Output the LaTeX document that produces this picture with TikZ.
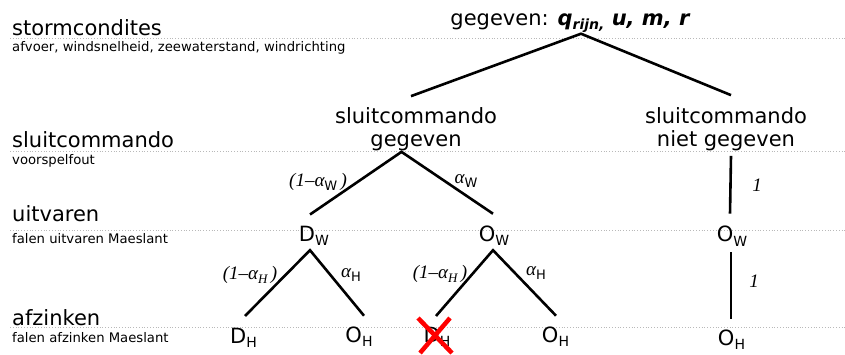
\documentclass[tikz,border=0pt]{standalone}
\usepackage{fontspec}
\setmainfont{DejaVu Sans}
\newfontfamily\kansfont{Liberation Serif}
\usepackage{xcolor}
\usepackage{tikz}
\usetikzlibrary{positioning,calc}
\definecolor{rood}{RGB}{255,0,0}
\definecolor{stippel}{RGB}{185,185,185}
\newcommand{\idx}[1]{\raisebox{-4.5pt}{\fontsize{14}{14}\selectfont #1}}
\newcommand{\kidx}[1]{\raisebox{-4pt}{\normalfont\fontsize{13}{13}\selectfont #1}}
\newcommand{\kidxi}[1]{\raisebox{-4pt}{\fontsize{13}{13}\selectfont #1}}
\tikzset{
  kop/.style={anchor=base west,inner sep=0pt,font=\fontsize{21}{24}\selectfont},
  uitleg/.style={anchor=base west,inner sep=0pt,font=\fontsize{13.2}{15}\selectfont},
  knoop/.style={inner sep=0pt,align=center,font=\fontsize{21}{23}\selectfont},
  kans/.style={inner sep=0pt,font=\kansfont\itshape\fontsize{19}{21}\selectfont},
  tak/.style={line width=2.6pt},
  niveau/.style={draw=stippel,dotted,line width=0.8pt},
  kruis/.style={draw=rood,line width=4.5pt}
}

\begin{document}
\begin{tikzpicture}[x=1pt,y=-1pt]
\useasboundingbox (0,0) rectangle (845,354);
\foreach \h in {38.5,151.5,230.5,327.5}
  \draw[niveau] (10,\h) -- (845,\h);

\node[kop] (storm) at (12,35) {stormcondites};
\node[uitleg] (stormtxt) at (12,51) {afvoer, windsnelheid, zeewaterstand, windrichting};
\node[kop] (sluit) at (12,147.5) {sluitcommando};
\node[uitleg] (sluittxt) at (12,164) {voorspelfout};
\node[kop] (uit) at (12,221) {uitvaren};
\node[uitleg] (uittxt) at (12,243) {falen uitvaren Maeslant};
\node[kop] (afz) at (12,325) {afzinken};
\node[uitleg] (afztxt) at (12,342) {falen afzinken Maeslant};

\node[knoop,anchor=base] (wortel) at (570,25) {gegeven: {\bfseries\itshape q\idx{rijn,} u, m, r}};
\node[knoop] (gegeven) at (416,129.5) {sluitcommando\\gegeven};
\node[knoop] (nietgegeven) at (726,129.5) {sluitcommando\\niet gegeven};
\node[knoop,anchor=base] (dw) at (314,241) {D\idx{W}};
\node[knoop,anchor=base] (ow) at (494,241) {O\idx{W}};
\node[knoop,anchor=base] (ow2) at (732,241.5) {O\idx{W}};
\node[knoop,anchor=base] (dh) at (243.5,343) {D\idx{H}};
\node[knoop,anchor=base] (oh) at (359,342) {O\idx{H}};
\node[knoop,anchor=base] (dh2) at (437,342) {D\idx{H}};
\node[knoop,anchor=base] (oh2) at (555.5,342) {O\idx{H}};
\node[knoop,anchor=base] (oh3) at (731.5,345) {O\idx{H}};

\draw[tak] ([shift={(-5,-11.5)}]gegeven.north) -- ([shift={(11,1)}]wortel.south) -- ([shift={(5,-12.5)}]nietgegeven.north);
\draw[tak] ([shift={(-4,-11)}]dw.north) -- ([shift={(-14.5,0.5)}]gegeven.south) -- ([shift={(-1,-11.5)}]ow.north);
\draw[tak] ([shift={(5,4.5)}]nietgegeven.south) -- ([shift={(-2,-12)}]ow2.north);
\draw[tak] ([shift={(1.5,-11.5)}]dh.north) -- ([shift={(-4,4.5)}]dw.south) -- ([shift={(5,-10.5)}]oh.north);
\draw[tak] ([shift={(-1,-10.5)}]dh2.north) -- ([shift={(-1,4.5)}]ow.south) -- ([shift={(0.5,-10.5)}]oh2.north);
\draw[tak] ([shift={(-1,6)}]ow2.south) -- ([shift={(-0.5,-10.5)}]oh3.north);

\node[kans] (kdw) at (318,182) {(1–α\kidx{W}\,)};
\node[kans] (kow) at (466,181) {α\kidx{W}};
\node[kans] (kng) at (757,185) {1};
\node[kans] (kdh) at (250,275) {(1–α\kidxi{H}\,)};
\node[kans] (koh) at (351,275) {α\kidx{H}};
\node[kans] (kdh2) at (440,274) {(1–α\kidxi{H}\,)};
\node[kans] (koh2) at (536,273) {α\kidx{H}};
\node[kans] (kow2) at (754,281) {1};

\draw[kruis] ([shift={(-19,-24)}]dh2.base) -- ([shift={(15,11)}]dh2.base);
\draw[kruis] ([shift={(13,-24)}]dh2.base) -- ([shift={(-17,11)}]dh2.base);
\end{tikzpicture}
\end{document}
